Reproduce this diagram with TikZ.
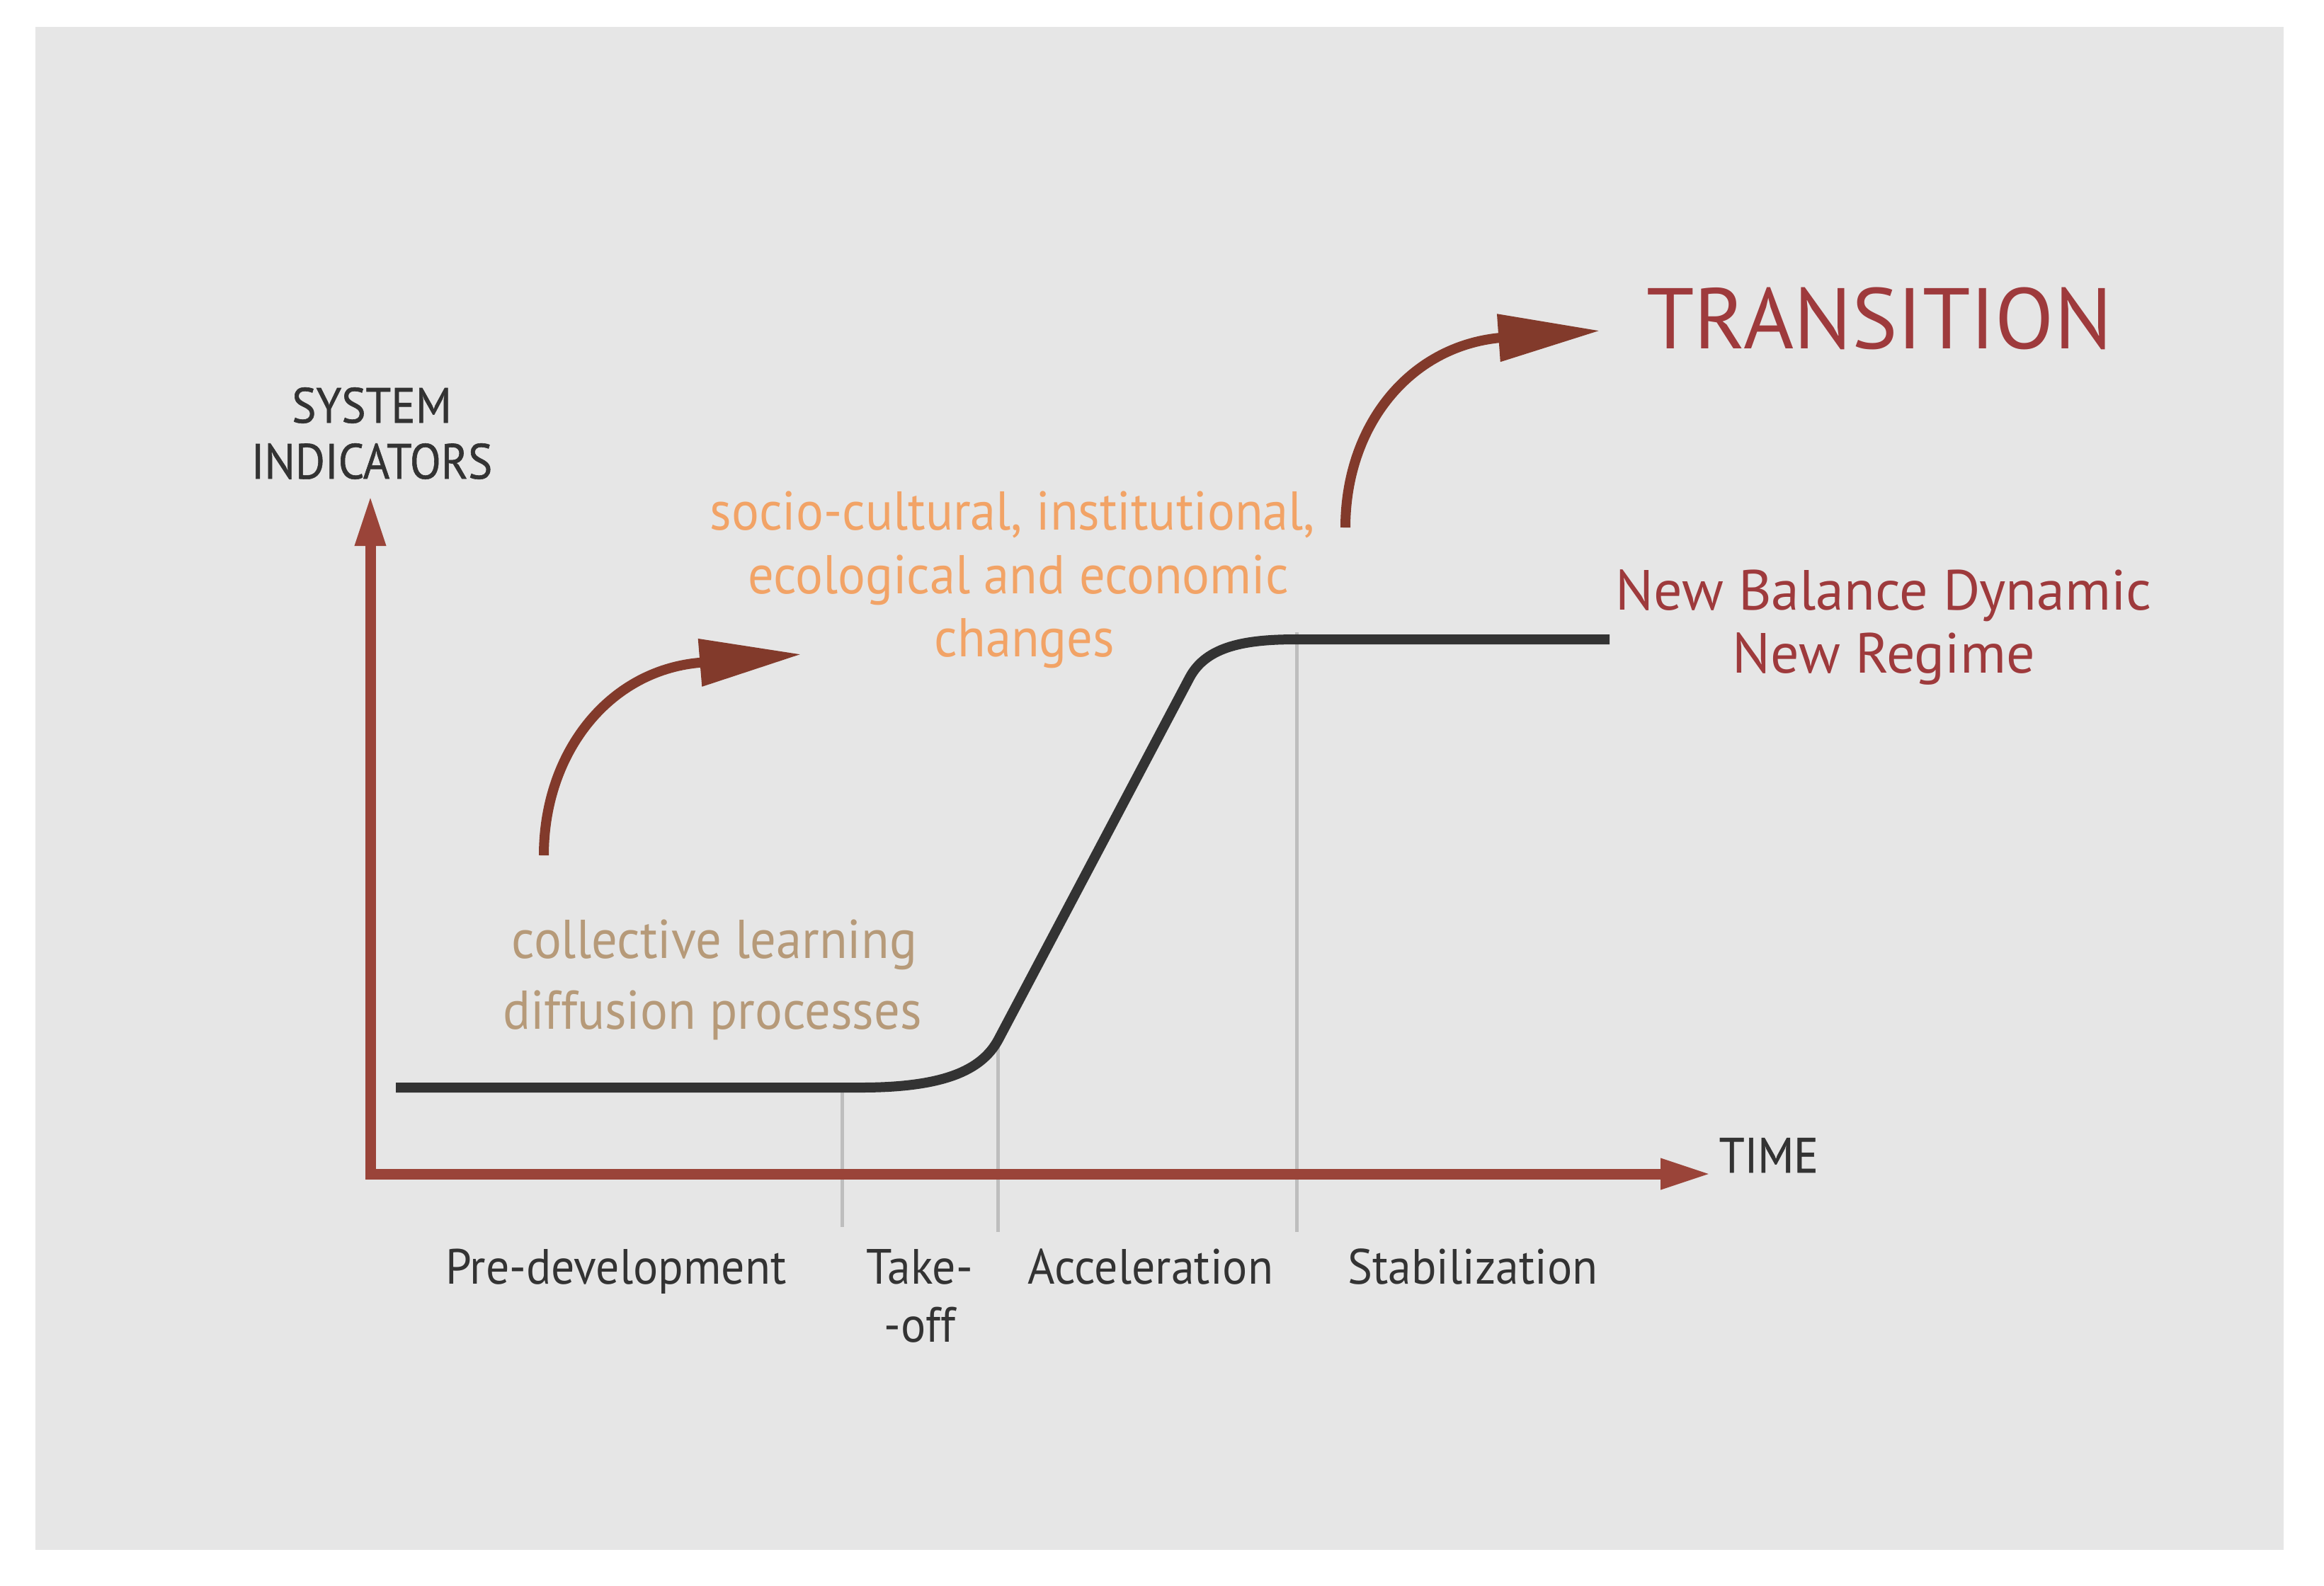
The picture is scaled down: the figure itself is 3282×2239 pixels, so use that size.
\documentclass[tikz,border=0pt]{standalone}
\usepackage{fontspec}
\setmainfont[FakeStretch=0.94]{PT Sans}
\newfontfamily\widefont{PT Sans}
\newfontfamily\semibold[FakeStretch=0.92,FakeBold=0.8]{PT Sans}
\usetikzlibrary{arrows.meta}
\definecolor{bg}{HTML}{E6E6E6}
\definecolor{axisred}{HTML}{9A4439}
\definecolor{arrowbrown}{HTML}{823A2B}
\definecolor{titlered}{HTML}{9E3A3C}
\definecolor{orangetxt}{HTML}{F2A366}
\definecolor{tantxt}{HTML}{B69A79}
\definecolor{darktxt}{HTML}{333333}
\definecolor{guidegray}{HTML}{BEBEBE}
\begin{document}
\begin{tikzpicture}[x=0.25pt,y=-0.25pt,
  lbl/.style={font=\fontsize{17.5}{20}\selectfont, text=darktxt, inner sep=0pt, anchor=base},
  axislbl/.style={font=\semibold\fontsize{17.5}{20}\selectfont, text=darktxt, inner sep=0pt, anchor=base},
  title/.style={font=\widefont\fontsize{30.4}{34}\selectfont, text=titlered, inner sep=0pt, anchor=base},
  regime/.style={font=\widefont\fontsize{20}{23}\selectfont, text=titlered, inner sep=0pt, anchor=base},
  change/.style={font=\fontsize{19.3}{22}\selectfont, text=orangetxt, inner sep=0pt, anchor=base},
  learn/.style={font=\fontsize{19.3}{22}\selectfont, text=tantxt, inner sep=0pt, anchor=base},
  axisline/.style={draw=axisred, line width=3.75pt, line join=miter},
  bendarrow/.style={draw=arrowbrown, line width=3.5pt, -{Triangle[length=36pt,width=16pt]}},
  scurve/.style={draw=darktxt, line width=3.5pt, line join=round},
  guide/.style={draw=guidegray, line width=1.25pt}]
\useasboundingbox (0,0) rectangle (3282,2239);
\fill[white] (0,0) rectangle (3282,2239);
\fill[bg] (50,38) rectangle (3225,2189);

% guide lines
\coordinate (g1t) at (1189,1536); \coordinate (g1b) at (1189,1733);
\coordinate (g2t) at (1409,1468); \coordinate (g2b) at (1409,1740);
\coordinate (g3t) at (1831,893);  \coordinate (g3b) at (1831,1740);
\draw[guide] (g1t) -- (g1b);
\draw[guide] (g2t) -- (g2b);
\draw[guide] (g3t) -- (g3b);

% axes
\coordinate (ytip) at (523,699);
\coordinate (corner) at (523,1658);
\coordinate (xtip) at (2417,1658);
\draw[axisline, {Triangle[length=18pt,width=10pt]}-{Triangle[length=18pt,width=10pt]}] (ytip) -- (corner) -- (xtip);

% S-curve
\coordinate (s0) at (559,1536);
\coordinate (s1) at (1215,1536);
\coordinate (s2) at (1410,1468);
\coordinate (s3) at (1680,957);
\coordinate (s4) at (1831,903);
\coordinate (s5) at (2273,903);
\draw[scurve] (s0) -- (s1) .. controls (1330,1536) and (1386,1513) .. (s2) -- (s3) .. controls (1704,912) and (1760,903) .. (s4) -- (s5);

% bent arrows
\coordinate (a0) at (768,1208);
\coordinate (a1) at (987,936);
\coordinate (a2) at (1132,924);
\draw[bendarrow] (a0) .. controls (768,1065) and (858,948) .. (a1) -- (a2);
\coordinate (b0) at (1900,745);
\coordinate (b1) at (2119,477);
\coordinate (b2) at (2260,467);
\draw[bendarrow] (b0) .. controls (1900,602) and (1990,489) .. (b1) -- (b2);

% texts
\node[axislbl] (sys1) at (525,597) {SYSTEM};
\node[axislbl] (sys2) at (525,676) {INDICATORS};
\node[axislbl, anchor=base west] (time) at (2427,1656) {TIME};
\node[title] (trans) at (2654,492) {TRANSITION};
\node[regime] (nb1) at (2660,861) {New Balance Dynamic};
\node[regime] (nb2) at (2660,950) {New Regime};
\node[change] (ch1) at (1430,748) {socio-cultural, institutional,};
\node[change] (ch2) at (1438,838) {ecological and economic};
\node[change] (ch3) at (1447,927) {changes};
\node[learn] (cl1) at (1009,1353) {collective learning};
\node[learn] (cl2) at (1006,1453) {diffusion processes};
\node[lbl] (ph1) at (870,1813) {Pre-development};
\node[lbl] (ph2a) at (1299,1813) {Take-};
\node[lbl] (ph2b) at (1299,1895) {-off};
\node[lbl] (ph3) at (1625,1813) {Acceleration};
\node[lbl] (ph4) at (2080,1813) {Stabilization};
\end{tikzpicture}
\end{document}
